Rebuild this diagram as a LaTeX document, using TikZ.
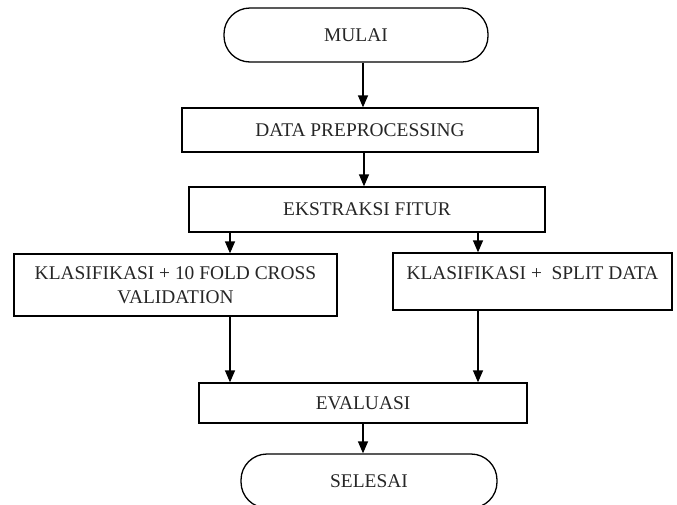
\documentclass[tikz,border=0pt]{standalone}
\usepackage{fontspec}
\setmainfont{Liberation Serif}
\usetikzlibrary{arrows.meta}
\begin{document}
\begin{tikzpicture}[x=1pt,y=1pt,
  box/.style={draw=black,line width=1.3pt,rectangle,inner sep=0pt,align=center,
    font=\fontsize{19.4}{23.5}\selectfont,text=black!85},
  term/.style={box,rounded corners=26pt},
  arr/.style={-{Triangle[width=10pt,length=12pt]},line width=1.3pt}]
\useasboundingbox (0,0) rectangle (677,-504);
\node[term,minimum width=264pt,minimum height=54pt] (mulai) at (356,-35) {MULAI};
\node[box,minimum width=356pt,minimum height=44pt] (prep) at (360,-130) {DATA PREPROCESSING};
\node[box,minimum width=356pt,minimum height=45pt] (ekstr) at (367,-209.5) {EKSTRAKSI FITUR};
\node[box,minimum width=323pt,minimum height=62pt] (k1) at (175.5,-285) {KLASIFIKASI + 10 FOLD CROSS\\VALIDATION};
\node[box,minimum width=279pt,minimum height=57pt,text depth=18pt,text height=13pt] (k2) at (532.5,-281.5) {KLASIFIKASI +\ \ SPLIT DATA};
\node[box,minimum width=328pt,minimum height=40pt] (eval) at (363,-403) {EVALUASI};
\node[term,minimum width=256pt,minimum height=54pt] (sel) at (369,-481) {SELESAI};
\coordinate (xa) at (363,0);
\coordinate (xb) at (364,0);
\coordinate (xl) at (230,0);
\coordinate (xr) at (478,0);
\draw[arr] (mulai.south -| xa) -- (prep.north -| xa);
\draw[arr] (prep.south -| xb) -- (ekstr.north -| xb);
\draw[arr] (ekstr.south -| xl) -- (k1.north -| xl);
\draw[arr] (ekstr.south -| xr) -- (k2.north -| xr);
\draw[arr] (k1.south -| xl) -- (eval.north -| xl);
\draw[arr] (k2.south -| xr) -- (eval.north -| xr);
\draw[arr] (eval.south -| xa) -- (sel.north -| xa);
\end{tikzpicture}
\end{document}
